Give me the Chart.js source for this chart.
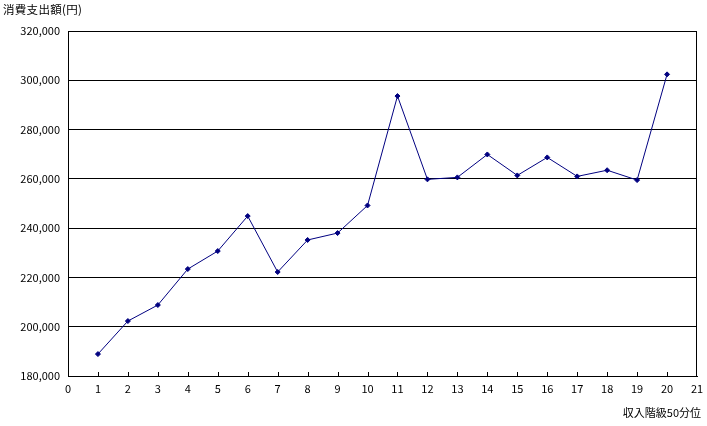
<!DOCTYPE html>
<html>
<head>
<meta charset="utf-8">
<script src="https://cdn.jsdelivr.net/npm/chart.js@4"></script>
<style>
  body { margin: 0; background: #fff; }
  #wrap { position: relative; width: 707px; height: 426px; }
  .lbl { position: absolute; font: 11px "Noto Sans CJK JP", sans-serif; color: #000; white-space: nowrap; }
</style>
</head>
<body>
<div id="wrap">
  <canvas id="spendChart" width="707" height="426"></canvas>
  <div class="lbl" style="left:3px; top:1px; font-size:11.5px; letter-spacing:0.3px;">消費支出額(円)</div>
  <div class="lbl" style="right:6px; top:404px;">収入階級50分位</div>
</div>
<script>
// income class (50-quantile groups) and spending
const classes = [1, 2, 3, 4, 5, 6, 7, 8, 9, 10, 11, 12, 13, 14, 15, 16, 17, 18, 19, 20];
const spending = [188900, 202300, 208800, 223400, 230700, 244900, 222200, 235200, 238000, 249200,
                  293600, 259800, 260600, 269900, 261400, 268700, 261000, 263500, 259500, 302400];

const navy = "#000080";
const tickFont = { family: "'Noto Sans CJK JP', sans-serif", size: 11 };

// plot frame + small inward ticks on x axis
const framePlugin = {
  id: "frame",
  afterDraw(chart) {
    const { ctx, chartArea: a, scales } = chart;
    ctx.save();
    ctx.strokeStyle = "#000";
    ctx.lineWidth = 1;
    ctx.strokeRect(a.left + 0.5, a.top + 0.5, a.right - a.left - 1, a.bottom - a.top);
    ctx.beginPath();
    for (let i = 1; i < 21; i++) {
      const px = Math.round(scales.x.getPixelForValue(i)) + 0.5;
      ctx.moveTo(px, a.bottom);
      ctx.lineTo(px, a.bottom - 4);
    }
    ctx.stroke();
    ctx.restore();
  }
};

new Chart(document.getElementById("spendChart"), {
  type: "line",
  data: {
    datasets: [{
      data: classes.map((c, i) => ({ x: c, y: spending[i] })),
      borderColor: navy,
      borderWidth: 1,
      backgroundColor: navy,
      pointStyle: "rectRot",
      pointRadius: 2.5,
      pointBorderColor: navy,
      pointBackgroundColor: navy,
      tension: 0
    }]
  },
  options: {
    responsive: false,
    animation: false,
    layout: { padding: { top: 31, right: 10, left: 0, bottom: 0 } },
    plugins: { legend: { display: false }, tooltip: { enabled: false } },
    scales: {
      x: {
        type: "linear",
        min: 0, max: 21,
        afterFit(s) { s.height = 50; s.paddingRight = 0; },
        ticks: { stepSize: 1, color: "#000", font: tickFont, padding: 6, maxRotation: 0 },
        grid: { display: false, drawTicks: false },
        border: { color: "#000" }
      },
      y: {
        min: 180000, max: 320000,
        afterFit(s) { s.width = 68; },
        ticks: {
          stepSize: 20000, color: "#000", font: tickFont, padding: 8,
          callback: v => v.toLocaleString("en-US")
        },
        grid: { color: "#000", drawTicks: false },
        border: { color: "#000" }
      }
    }
  },
  plugins: [framePlugin]
});
</script>
</body>
</html>
